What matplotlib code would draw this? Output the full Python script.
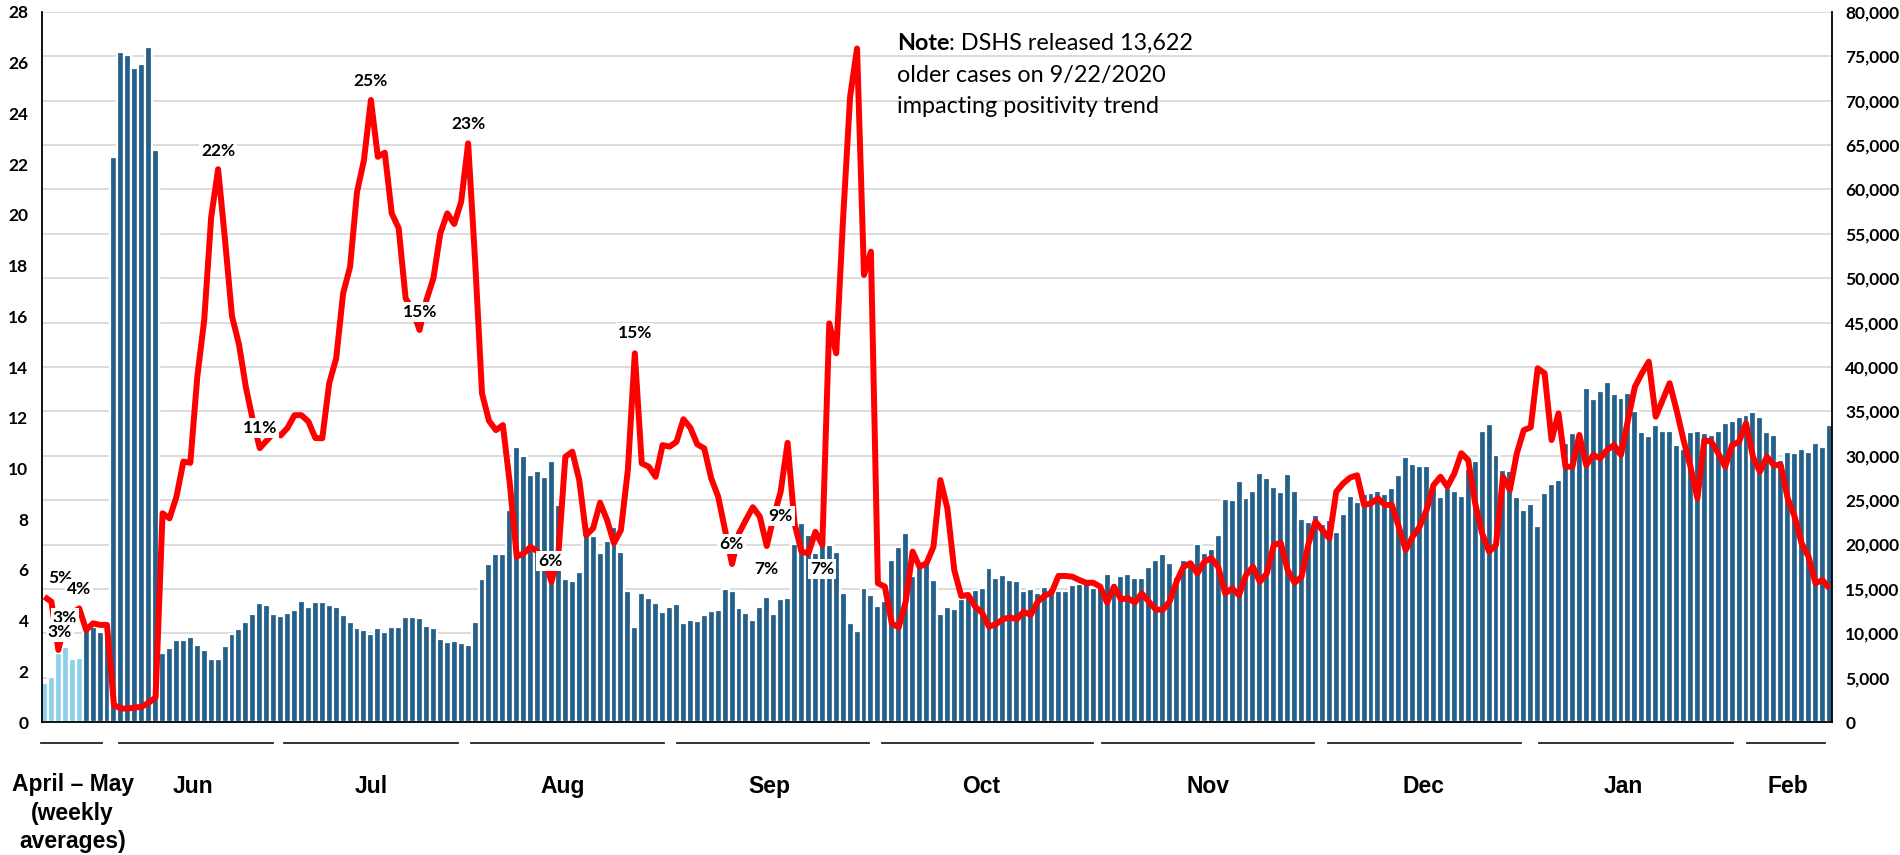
import matplotlib
matplotlib.use('Agg')
import matplotlib.pyplot as plt
from matplotlib.transforms import blended_transform_factory

# ---------------- data ----------------
cases = [4360, 5110, 7740, 8410, 7060, 7200, 10560, 10740, 10180, 10740,
         63640, 75540, 75170, 73670, 74160, 76110, 64460, 7810, 8340, 9240,
         9240, 9540, 8680, 8110, 7060, 7060, 8570, 9920, 10520, 11270,
         12170, 13450, 13150, 12130, 11950, 12320, 12620, 13600, 12960, 13520,
         13520, 13190, 13000, 12100, 11270, 10560, 10330, 9960, 10560, 10140,
         10740, 10670, 11790, 11790, 11680, 10860, 10630, 9350, 9020, 9130,
         8900, 8640, 11230, 16120, 17810, 18890, 18930, 23890, 30950, 29980,
         27840, 28330, 27650, 29410, 24460, 16080, 15930, 16940, 21070, 20960,
         19010, 20440, 21940, 19160, 14760, 10670, 14500, 14010, 13410, 12430,
         13000, 13260, 11120, 11500, 11380, 12020, 12510, 12620, 14950, 14760,
         12810, 12250, 11500, 13000, 14130, 12170, 13900, 13940, 20020, 22390,
         21070, 19080, 19950, 19950, 19200, 14540, 11120, 10290, 15140, 14280,
         13110, 13640, 18290, 19760, 21260, 16490, 17500, 17950, 16000, 12130,
         12920, 12700, 13830, 14430, 14840, 15060, 17390, 16270, 16530, 16040,
         15930, 14800, 15030, 14500, 15250, 15060, 14760, 14760, 15440, 15550,
         16080, 15060, 15440, 16640, 15520, 16450, 16720, 16230, 16190, 17470,
         18220, 18890, 17950, 16380, 18220, 18290, 20100, 19080, 19530, 21110,
         25130, 25060, 27120, 25240, 26030, 28060, 27540, 26450, 25960, 27910,
         26070, 22840, 22580, 23330, 22280, 22770, 21370, 23480, 25510, 24760,
         25700, 25770, 26000, 25730, 26370, 27840, 29900, 29040, 28850, 28850,
         26520, 25320, 26340, 26030, 25440, 28480, 29410, 32830, 33580, 30090,
         28400, 28330, 25400, 23890, 24570, 22130, 25850, 26820, 27270, 31480,
         32610, 32460, 37640, 36400, 37300, 38320, 36970, 36510, 37080, 35050,
         32720, 32270, 33440, 32800, 32760, 31180, 30730, 32650, 32830, 32540,
         32340, 32760, 33730, 33920, 34410, 34600, 34900, 34340, 32680, 32340,
         29530, 30390, 30360, 30730, 30430, 31410, 30960, 33470]

positivity = [4.94, 4.74, 2.84, 4.02, 4.3, 4.48, 3.63, 3.89, 3.83, 3.83,
              0.67, 0.53, 0.53, 0.57, 0.6, 0.76, 0.97, 8.23, 8.03, 8.88,
              10.27, 10.22, 13.6, 15.85, 19.9, 21.8, 19.0, 16.0, 14.9, 13.2,
              11.9, 10.8, 11.1, 11.4, 11.3, 11.6, 12.1, 12.1, 11.85, 11.2,
              11.19, 13.36, 14.34, 16.9, 17.95, 20.9, 22.16, 24.53, 22.29, 22.45,
              20.06, 19.47, 16.71, 16.25, 15.46, 16.64, 17.5, 19.27, 20.06, 19.64,
              20.52, 22.82, 18.22, 12.96, 11.88, 11.51, 11.71, 9.41, 6.52, 6.65,
              6.91, 6.72, 6.39, 5.53, 6.65, 10.46, 10.66, 9.54, 7.37, 7.64,
              8.65, 7.97, 7.05, 7.57, 9.94, 14.54, 10.2, 10.07, 9.67, 10.92,
              10.86, 11.05, 11.94, 11.6, 10.95, 10.79, 9.61, 8.89, 7.57, 6.23,
              7.44, 7.97, 8.47, 8.1, 6.94, 8.1, 9.08, 11.01, 7.83, 6.72,
              6.65, 7.5, 6.98, 15.72, 14.54, 19.9, 24.66, 26.56, 17.63, 18.55,
              5.47, 5.34, 3.89, 3.73, 4.74, 6.72, 6.12, 6.26, 6.91, 9.54,
              8.43, 5.99, 4.97, 5.01, 4.55, 4.31, 3.76, 3.86, 4.05, 4.13,
              4.05, 4.35, 4.22, 4.74, 4.98, 5.1, 5.76, 5.76, 5.73, 5.6,
              5.49, 5.49, 5.34, 4.71, 5.34, 4.84, 4.88, 4.71, 5.07, 4.75,
              4.44, 4.42, 4.75, 5.53, 6.12, 6.26, 5.86, 6.32, 6.46, 6.12,
              5.07, 5.27, 5.0, 5.8, 6.12, 5.53, 5.86, 6.98, 7.07, 5.99,
              5.49, 5.73, 7.03, 7.9, 7.57, 7.24, 9.08, 9.41, 9.64, 9.73,
              8.56, 8.62, 8.82, 8.56, 8.56, 7.7, 6.78, 7.31, 7.7, 8.36,
              9.34, 9.67, 9.28, 9.8, 10.6, 10.33, 8.62, 7.44, 6.72, 6.98,
              9.67, 9.15, 10.6, 11.51, 11.62, 13.95, 13.75, 11.12, 12.17, 10.07,
              10.07, 11.32, 10.13, 10.53, 10.4, 10.73, 10.92, 10.53, 11.91, 13.22,
              13.75, 14.21, 12.04, 12.7, 13.36, 12.3, 11.12, 10.07, 8.82, 11.12,
              11.05, 10.6, 10.07, 10.92, 11.05, 11.78, 10.46, 9.87, 10.46, 10.13,
              10.13, 8.82, 8.1, 7.05, 6.52, 5.47, 5.6, 5.27]

n_weekly_light = 6

month_labels = ['April – May\n(weekly\naverages)', 'Jun', 'Jul', 'Aug', 'Sep',
                'Oct', 'Nov', 'Dec', 'Jan', 'Feb']

point_labels = ['5%', '4%', '3%', '3%', '22%', '11%', '25%', '23%', '15%', '15%',
                '6%', '6%', '7%', '9%', '7%']

left_ticks = list(range(0, 29, 2))
right_ticks = list(range(0, 80001, 5000))

note_bold = 'Note'
note_lines = [': DSHS released 13,622', 'older cases on 9/22/2020',
              'impacting positivity trend']

# ---------------- layout ----------------
month_centers = [4.05, 21.31, 47.11, 74.66, 104.32, 134.85, 167.49, 198.63, 227.29, 251.04]
month_spans = [(-0.55, 8.28), (10.73, 32.9), (34.49, 59.54), (61.41, 89.2),
               (91.07, 118.72), (120.59, 150.97), (152.27, 182.79),
               (184.81, 212.6), (215.19, 243.13), (245.14, 256.37)]
label_pos = [(2.23, 5.67), (5.01, 5.23), (2.95, 4.09), (2.23, 3.54), (25.03, 22.53),
             (31.03, 11.58), (47.01, 25.28), (61.02, 23.57), (54.07, 16.18),
             (85.03, 15.33), (72.89, 6.36), (98.95, 7.01), (103.99, 6.02),
             (106.0, 8.13), (112.0, 6.02)]

W, H = 1900, 855
fig = plt.figure(figsize=(W / 100, H / 100), dpi=100)
ax = fig.add_axes([41.7 / W, 1 - 722 / H, (1832 - 41.7) / W, (722 - 12) / H])
ax2 = ax.twinx()

dark = '#25608B'
light = '#8DD0EA'
x = list(range(len(cases)))
colors = [light if i < n_weekly_light else dark for i in x]
ax.bar(x, cases, width=1.0, color=colors, edgecolor='white', linewidth=1.6, zorder=2)
ax.set_ylim(0, 80000)
ax.set_yticks(right_ticks)
ax.set_yticklabels([f'{t:,}' for t in right_ticks])
ax.grid(axis='y', color='#d9d9d9', linewidth=1.3, zorder=0)
ax.set_axisbelow(True)
ax.yaxis.tick_right()
ax.set_xlim(-0.4, 257.38)
ax.set_xticks([])

ax2.plot(x, positivity, color='#FF0000', linewidth=4.3, solid_joinstyle='round',
         solid_capstyle='butt', zorder=3)
ax2.set_ylim(0, 28)
ax2.set_yticks(left_ticks)
ax2.set_yticklabels([str(t) for t in left_ticks])
ax2.yaxis.tick_left()
ax2.set_xlim(-0.4, 257.38)

tick_font = dict(family=['Lato', 'DejaVu Sans'], weight='bold', size=12.5)
for a in (ax, ax2):
    a.tick_params(axis='y', length=0, pad=9.5)
    for lab in a.get_yticklabels():
        lab.set_fontproperties(matplotlib.font_manager.FontProperties(**tick_font))
    for s in a.spines.values():
        s.set_visible(False)

ax2.spines['left'].set_visible(True)
ax2.spines['right'].set_visible(True)
ax2.spines['bottom'].set_visible(True)
for s in ('left', 'right', 'bottom'):
    ax2.spines[s].set_color('black')
    ax2.spines[s].set_linewidth(1.3)
ax2.spines['bottom'].set_zorder(5)

# point labels
for i, (txt, (px, py)) in enumerate(zip(point_labels, label_pos)):
    z = 4 if i == 2 else 6
    ax2.text(px, py, txt, ha='center', va='center', fontsize=12.5, fontweight='bold',
             family=['Lato', 'DejaVu Sans'], zorder=z,
             bbox=dict(boxstyle='square,pad=0.12', facecolor='white', edgecolor='none'))

# month underlines and labels
trans = blended_transform_factory(ax.transData, fig.transFigure)
for (a0, a1) in month_spans:
    ax.plot([a0, a1], [1 - 743 / H, 1 - 743 / H], transform=trans, color='#222222',
            linewidth=1.3, clip_on=False)
for lab, cx in zip(month_labels, month_centers):
    yy = 1 - 813 / H if '\n' in lab else 1 - 786 / H
    ax.text(cx, yy, lab, transform=trans, ha='center', va='center', ma='center',
            fontsize=16.5, fontweight='bold', family=['Liberation Sans', 'DejaVu Sans'],
            linespacing=1.3)

# note
note_font = dict(family=['Lato', 'DejaVu Sans'], fontsize=16.8)
t1 = fig.text(896.7 / W, 1 - 50 / H, note_bold, fontweight='bold', va='baseline',
              ha='left', **note_font)
fig.canvas.draw()
fig.text(0, 0, '')
ax.annotate(note_lines[0], xy=(1, 0), xycoords=t1, va='bottom', ha='left', **note_font)
fig.text(896.7 / W, 1 - 81.7 / H, note_lines[1], va='baseline', ha='left', **note_font)
fig.text(896.7 / W, 1 - 113.3 / H, note_lines[2], va='baseline', ha='left', **note_font)

fig.savefig('out.png', dpi=100, facecolor='white')
